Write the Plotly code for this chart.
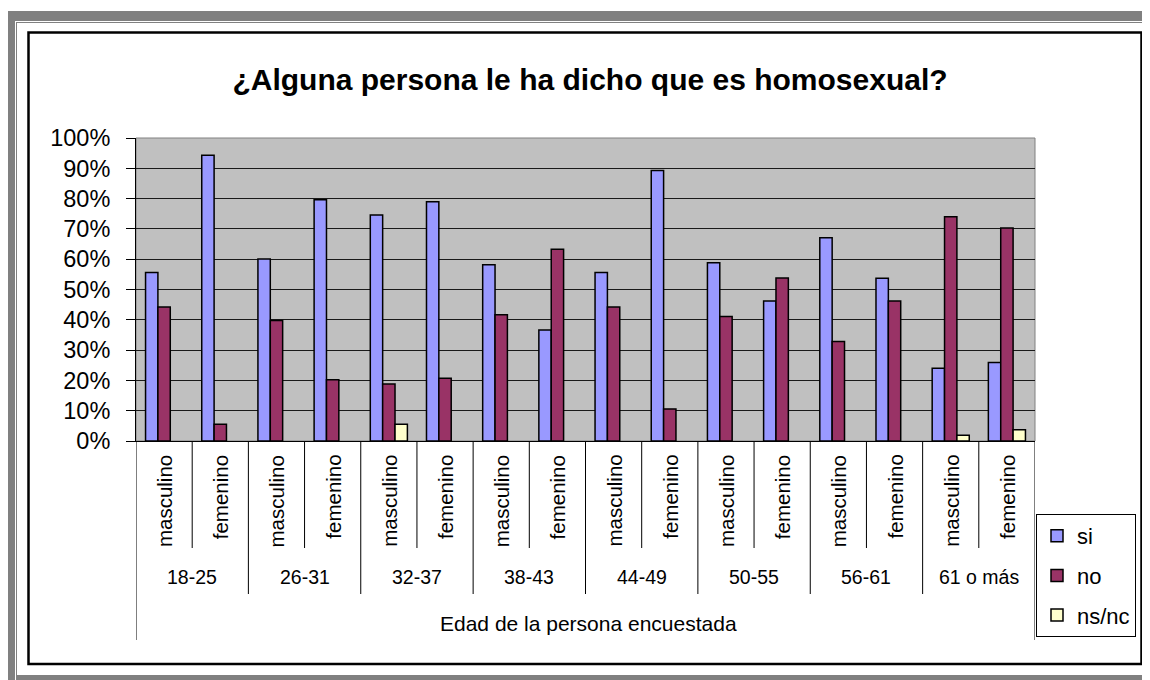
import plotly.graph_objects as go

# ---- data ----
age_groups = ["18-25", "26-31", "32-37", "38-43", "44-49", "50-55", "56-61", "61 o más"]
sexes = ["masculino", "femenino"]
si = [0.556, 0.943, 0.601, 0.796, 0.746, 0.790, 0.582, 0.366,
      0.556, 0.893, 0.588, 0.462, 0.671, 0.537, 0.240, 0.259]
no = [0.442, 0.055, 0.398, 0.202, 0.188, 0.207, 0.417, 0.633,
      0.442, 0.106, 0.411, 0.538, 0.328, 0.462, 0.740, 0.703]
nsnc = [None, None, None, None, 0.055, None, None, None,
        None, None, None, None, None, None, 0.019, 0.037]
series_names = ["si", "no", "ns/nc"]
series_colors = ["#9999FF", "#993366", "#FFFFCC"]
title_text = "¿Alguna persona le ha dicho que es homosexual?"
x_title = "Edad de la persona encuestada"

# ---- geometry (screen pixels of the page; the page body has an 8px margin) ----
OFF = 8
W, H = 1150 - OFF, 680 - OFF
PL, PR, PT, PB = 136, 1035, 138, 441   # plot area in screen pixels
FONT = "Liberation Sans, Arial, sans-serif"


def px(x):
    return (x - PL) / (PR - PL)


def py(y):
    return (PB - y) / (PB - PT)


cats = [f"{g}|{s}" for g in age_groups for s in sexes]

fig = go.Figure()
for name, vals, col in zip(series_names, [si, no, nsnc], series_colors):
    fig.add_trace(go.Bar(
        x=cats, y=vals, name=name, legendgroup=name,
        marker=dict(color=col, line=dict(color="black", width=1.5)),
    ))

shapes = []
gray = "#808080"
shapes += [
    dict(type="rect", xref="paper", yref="paper", x0=px(0), x1=px(1160), y0=py(11), y1=py(21),
         fillcolor=gray, line=dict(width=0), layer="below"),
    dict(type="rect", xref="paper", yref="paper", x0=px(0), x1=px(15), y0=py(11), y1=py(690),
         fillcolor=gray, line=dict(width=0), layer="below"),
    dict(type="rect", xref="paper", yref="paper", x0=px(17), x1=px(1160), y0=py(675), y1=py(690),
         fillcolor=gray, line=dict(width=0), layer="below"),
    dict(type="line", xref="paper", yref="paper", x0=px(16.5), x1=px(16.5), y0=py(22), y1=py(690),
         line=dict(color=gray, width=1)),
    dict(type="line", xref="paper", yref="paper", x0=px(16), x1=px(1160), y0=py(22.5), y1=py(22.5),
         line=dict(color=gray, width=1)),
    # black chart border
    dict(type="rect", xref="paper", yref="paper", x0=px(28.5), x1=px(1141.5), y0=py(32.5), y1=py(664),
         line=dict(color="black", width=2.5), fillcolor="rgba(0,0,0,0)"),
    # plot area border (top/right)
    dict(type="rect", xref="paper", yref="paper", x0=0, x1=1, y0=0, y1=1,
         line=dict(color=gray, width=1), fillcolor="rgba(0,0,0,0)", layer="between"),
]

# category divider lines on the x axis
n = len(cats)
for i in range(n + 1):
    xb = i - 0.5
    if i == 0 or i == n:
        ybot = 640
    elif i % 2 == 0:
        ybot = 594
    else:
        ybot = 548
    shapes.append(dict(type="line", xref="x", yref="paper", x0=xb, x1=xb, y0=0, y1=py(ybot),
                       line=dict(color="black", width=1)))

annotations = []
for i, c in enumerate(cats):
    annotations.append(dict(
        x=i, xref="x", y=py(453), yref="paper", text=c.split("|")[1], textangle=-90,
        showarrow=False, xanchor="center", yanchor="top",
        font=dict(family=FONT, size=20.5, color="black")))
for g, grp in enumerate(age_groups):
    annotations.append(dict(
        x=2 * g + 0.5, xref="x", y=py(577), yref="paper", text=grp,
        showarrow=False, xanchor="center", yanchor="middle",
        font=dict(family=FONT, size=19.5, color="black")))
annotations.append(dict(
    x=px(588), xref="paper", y=py(623), yref="paper", text=x_title,
    showarrow=False, xanchor="center", yanchor="middle",
    font=dict(family=FONT, size=21, color="black")))

fig.update_layout(
    width=W, height=H,
    margin=dict(l=PL - OFF, r=W - (PR - OFF), t=PT - OFF, b=H - (PB - OFF), pad=0),
    paper_bgcolor="white", plot_bgcolor="#C0C0C0",
    barmode="group", bargap=0.34, bargroupgap=0,
    title=dict(text=f"<b>{title_text}</b>", x=(590 - OFF) / W, xref="container", xanchor="center",
               y=1 - (79 - OFF) / H, yref="container", yanchor="middle",
               font=dict(family=FONT, size=30, color="black")),
    font=dict(family=FONT, color="black"),
    xaxis=dict(type="category", showticklabels=False, ticks="", showgrid=False,
               showline=True, linecolor="black", linewidth=1, range=[-0.5, n - 0.5]),
    yaxis=dict(range=[0, 1], dtick=0.1, tickformat=".0%", showgrid=True, gridcolor="#1a1a1a",
               gridwidth=1, showline=True, linecolor="black", linewidth=1,
               ticks="outside", ticklen=9, tickcolor="black",
               tickfont=dict(family=FONT, size=23.5, color="black"), ticklabelstandoff=11,
               zeroline=False),
    legend=dict(x=px(1036), y=py(514), xanchor="left", yanchor="top",
                bordercolor="black", borderwidth=1, bgcolor="white",
                font=dict(family=FONT, size=22, color="black"),
                itemwidth=30, tracegroupgap=8),
    shapes=shapes, annotations=annotations, showlegend=True,
)

fig.write_html("out.html")
